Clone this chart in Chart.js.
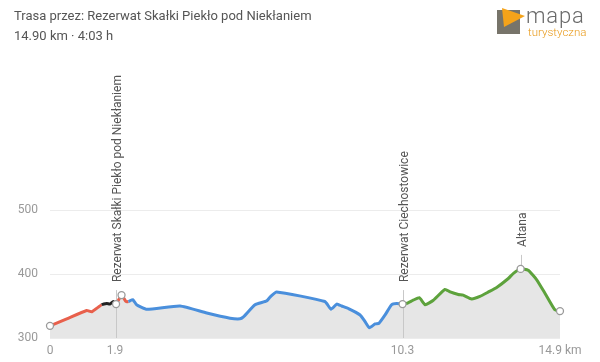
<!DOCTYPE html>
<html>
<head>
<meta charset="utf-8">
<script src="https://cdn.jsdelivr.net/npm/chart.js@4"></script>
<style>
  html, body { margin: 0; padding: 0; background: #fff; }
  #wrap { position: relative; width: 600px; height: 362px; }
  #title { position: absolute; left: 14px; top: 6px; font: 13px Roboto, sans-serif; color: #555; line-height: 20px; }
  #logo { position: absolute; left: 495px; top: 4px; }
</style>
</head>
<body>
<div id="wrap">
  <canvas id="chart"></canvas>
  <div id="title">Trasa przez: Rezerwat Skałki Piekło pod Niekłaniem<br>14.90 km · 4:03 h</div>
  <svg id="logo" width="105" height="40">
    <rect x="2" y="6" width="23" height="24" fill="#77746a"/>
    <polygon points="7,4 30,12 9,23" fill="#f5a31a"/>
    <text x="31" y="19" font-family="Roboto, sans-serif" font-size="22" font-weight="300" fill="#6a6a6a" letter-spacing="0.8">mapa</text>
    <text x="33" y="32" font-family="Roboto, sans-serif" font-size="11.5" font-weight="300" fill="#e99a1a">turystyczna</text>
  </svg>
</div>
<script>
// route profile
const distanceKm = [0, 0.49, 1.07, 1.22, 1.51, 1.66, 1.75, 1.85, 1.93, 2.09, 2.22, 2.29, 2.42, 2.53, 2.83, 3.80,
  4.58, 5.26, 5.55, 5.65, 5.99, 6.33, 6.43, 6.62, 8.03, 8.21, 8.38, 8.52, 8.72, 9.06, 9.20, 9.33, 9.50, 9.61,
  9.79, 9.98, 10.13, 10.30, 10.42, 10.61, 10.79, 10.96, 11.20, 11.54, 11.69, 11.93, 12.07, 12.32, 12.56, 12.81,
  13.05, 13.39, 13.54, 13.75, 13.97, 14.22, 14.46, 14.75, 14.90];
const elevation = [319, 330, 343, 341, 352, 354, 353, 357, 353, 367, 357, 357, 360, 352, 345, 350,
  339, 331, 330, 333, 352, 358, 364, 372, 357, 345, 353, 350, 346, 336, 326, 316, 322, 323,
  336, 352, 354, 353, 354, 359, 363, 352, 359, 376, 372, 368, 367, 361, 365, 372,
  379, 393, 401, 408, 406, 391, 370, 344, 342];

// where each coloured part of the route starts (km)
const segmentStartKm = [0, 1.51, 1.93, 2.29, 10.30];
const segmentColors = ['#e8604c', '#222222', '#e8604c', '#4a8fdc', '#5da23c'];

const circleKm = [0, 1.93, 2.09, 10.30, 13.75, 14.90];
const waypointNames = ['Rezerwat Skałki Piekło pod Niekłaniem', 'Rezerwat Ciechostowice', 'Altana'];
const waypointKm = [1.93, 10.30, 13.75];

const xTicks = [0, 1.9, 10.3, 14.9];
const yTicks = [300, 400, 500];

const points = distanceKm.map((d, i) => ({ x: d, y: elevation[i] }));

function colorAt(km) {
  let c = segmentColors[0];
  segmentStartKm.forEach((s, i) => { if (km >= s - 1e-6) c = segmentColors[i]; });
  return c;
}
const isCircle = (km) => circleKm.some((c) => Math.abs(c - km) < 1e-6);

const waypointPlugin = {
  id: 'waypoints',
  beforeDatasetsDraw(chart) {
    const { ctx, scales, chartArea } = chart;
    ctx.save();
    waypointKm.forEach((km, i) => {
      const idx = distanceKm.findIndex((d) => Math.abs(d - km) < 1e-6);
      const px = Math.round(scales.x.getPixelForValue(km)) + 0.5;
      const py = scales.y.getPixelForValue(elevation[idx]);
      const onAxis = xTicks.some((t) => Math.abs(t - km) < 0.05);
      ctx.strokeStyle = '#c8c8c8';
      ctx.lineWidth = 1;
      ctx.beginPath();
      ctx.moveTo(px, py - 14);
      ctx.lineTo(px, onAxis ? chartArea.bottom : py);
      ctx.stroke();

      ctx.translate(px + 1, py - 22);
      ctx.rotate(-Math.PI / 2);
      ctx.fillStyle = '#555';
      ctx.font = '12px Roboto, sans-serif';
      ctx.textAlign = 'left';
      ctx.textBaseline = 'middle';
      ctx.fillText(waypointNames[i], 0, 0);
      ctx.setTransform(1, 0, 0, 1, 0, 0);
    });
    ctx.restore();
  },
};

new Chart(document.getElementById('chart'), {
  type: 'line',
  data: {
    datasets: [
      {
        // coloured route line
        data: points,
        order: 1,
        borderWidth: 3,
        borderColor: '#4a8fdc',
        segment: { borderColor: (c) => colorAt(distanceKm[c.p0DataIndex]) },
        fill: false,
        tension: 0.15,
        clip: false,
        pointRadius: (c) => (isCircle(distanceKm[c.dataIndex]) ? 3.5 : 0),
        pointBackgroundColor: '#fff',
        pointBorderColor: '#9a9a9a',
        pointBorderWidth: 1.3,
      },
      {
        // grey area under the profile
        data: points,
        order: 2,
        borderWidth: 0,
        pointRadius: 0,
        backgroundColor: '#e6e6e6',
        fill: 'start',
        tension: 0.15,
      },
    ],
  },
  options: {
    responsive: true,
    maintainAspectRatio: false,
    animation: false,
    layout: { padding: { top: 210, right: 40, left: 0, bottom: 0 } },
    plugins: {
      legend: { display: false },
      tooltip: { enabled: false },
      filler: { drawTime: 'beforeDatasetsDraw' },
    },
    scales: {
      x: {
        type: 'linear',
        min: 0,
        max: 14.9,
        grid: { display: false, drawTicks: false },
        border: { display: false },
        afterBuildTicks: (s) => { s.ticks = xTicks.map((v) => ({ value: v })); },
        afterFit: (s) => { s.height = 24; },
        ticks: {
          autoSkip: false,
          maxRotation: 0,
          padding: 6,
          color: '#999',
          font: { family: 'Roboto', size: 12 },
          callback: (v) => (v === 14.9 ? '14.9 km' : String(v)),
        },
      },
      y: {
        min: 300,
        max: 500,
        grid: { color: '#ececec', drawTicks: false },
        border: { display: false },
        afterBuildTicks: (s) => { s.ticks = yTicks.map((v) => ({ value: v })); },
        afterFit: (s) => { s.width = 50; },
        ticks: {
          padding: 12,
          color: '#999',
          font: { family: 'Roboto', size: 12 },
        },
      },
    },
  },
  plugins: [waypointPlugin],
});
</script>
</body>
</html>
